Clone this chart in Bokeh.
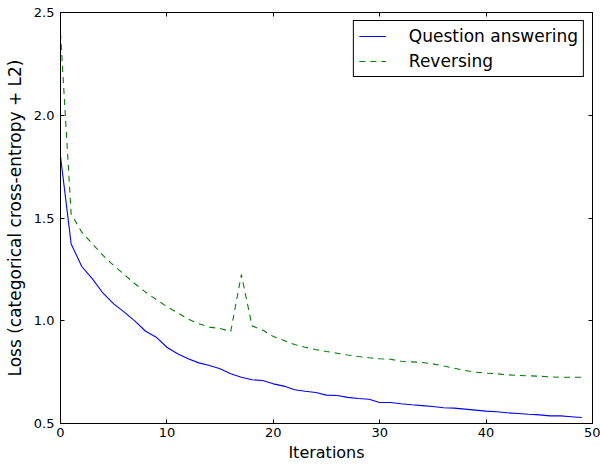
from bokeh.plotting import figure
from bokeh.models import (Range1d, FixedTicker, LinearAxis, Legend, LegendItem,
                          PrintfTickFormatter, CustomJSTickFormatter, ColumnDataSource)
from bokeh.embed import file_html
from bokeh.resources import INLINE

iterations = list(range(50))
question_answering = [1.80, 1.374, 1.264, 1.204, 1.134, 1.082, 1.042, 0.998, 0.949, 0.920,
                      0.871, 0.839, 0.815, 0.795, 0.782, 0.766, 0.742, 0.725, 0.713, 0.709,
                      0.693, 0.682, 0.664, 0.657, 0.651, 0.638, 0.636, 0.627, 0.622, 0.618,
                      0.602, 0.602, 0.596, 0.591, 0.587, 0.583, 0.577, 0.575, 0.570, 0.565,
                      0.560, 0.557, 0.552, 0.549, 0.545, 0.542, 0.537, 0.537, 0.533, 0.529]
reversing = [2.40, 1.52, 1.431, 1.374, 1.318, 1.269, 1.225, 1.180, 1.139, 1.103,
             1.069, 1.039, 1.008, 0.985, 0.969, 0.962, 0.948, 1.225, 0.975, 0.955,
             0.923, 0.904, 0.884, 0.871, 0.860, 0.850, 0.842, 0.833, 0.826, 0.820,
             0.815, 0.813, 0.803, 0.800, 0.797, 0.790, 0.780, 0.769, 0.758, 0.750,
             0.745, 0.742, 0.737, 0.734, 0.732, 0.730, 0.727, 0.725, 0.725, 0.725]
series_names = ["Question answering", "Reversing"]
x_ticks = [0, 10, 20, 30, 40, 50]
y_ticks = [0.5, 1.0, 1.5, 2.0, 2.5]
x_label = "Iterations"
y_label = "Loss (categorical cross-entropy + L2)"

FONT = "DejaVu Sans"

p = figure(width=600, height=466, output_backend="svg", toolbar_location=None,
           x_range=Range1d(0, 50), y_range=Range1d(0.5, 2.5),
           x_axis_location=None, y_axis_location=None)
p.min_border_left = 60
p.min_border_right = 8
p.min_border_top = 12
p.min_border_bottom = 43
p.xgrid.visible = False
p.ygrid.visible = False
p.outline_line_color = "black"
p.outline_line_width = 1
p.background_fill_color = "white"
p.border_fill_color = "white"

def style_axis(ax, ticks, show_labels, label=None, fmt=None, label_size="16px",
               tick_standoff=5, label_standoff=4):
    ax.ticker = FixedTicker(ticks=ticks)
    ax.major_tick_in = 4
    ax.major_tick_out = 0
    ax.minor_tick_in = 0
    ax.minor_tick_out = 0
    ax.major_tick_line_color = "black"
    ax.axis_line_color = "black"
    ax.major_label_text_font = FONT
    ax.major_label_text_font_size = "13px"
    ax.major_label_text_color = "black"
    ax.major_label_standoff = tick_standoff
    if show_labels:
        ax.formatter = fmt
    else:
        ax.formatter = CustomJSTickFormatter(code="return ''")
        ax.major_label_standoff = 0
    if label:
        ax.axis_label = label
        ax.axis_label_text_font = FONT
        ax.axis_label_text_font_size = label_size
        ax.axis_label_text_font_style = "normal"
        ax.axis_label_text_color = "black"
        ax.axis_label_standoff = label_standoff

xb = LinearAxis()
style_axis(xb, x_ticks, True, x_label, PrintfTickFormatter(format="%d"),
           label_size="16px", tick_standoff=4, label_standoff=3)
p.add_layout(xb, "below")
yl = LinearAxis()
style_axis(yl, y_ticks, True, y_label, PrintfTickFormatter(format="%.1f"),
           label_size="17px", tick_standoff=6, label_standoff=6)
p.add_layout(yl, "left")
xt = LinearAxis()
style_axis(xt, x_ticks, False)
p.add_layout(xt, "above")
yr = LinearAxis()
style_axis(yr, y_ticks, False)
p.add_layout(yr, "right")

src = ColumnDataSource(dict(x=iterations, qa=question_answering, rev=reversing))
r1 = p.line("x", "qa", source=src, line_color="#0000ff", line_width=1.1)
r2 = p.line("x", "rev", source=src, line_color="#008000", line_width=1.1, line_dash="6 5")

legend = Legend(items=[LegendItem(label=series_names[0], renderers=[r1]),
                       LegendItem(label=series_names[1], renderers=[r2])],
                location="top_right")
legend.label_text_font = FONT
legend.label_text_font_size = "17px"
legend.label_text_color = "black"
legend.border_line_color = "black"
legend.border_line_width = 1
legend.border_line_alpha = 1
legend.background_fill_color = "white"
legend.background_fill_alpha = 1
legend.glyph_width = 27
legend.glyph_height = 20
legend.label_standoff = 23
legend.padding = 5
legend.spacing = 5
legend.margin = 8
p.add_layout(legend, "center")

open("out.html", "w").write(file_html(p, INLINE))
